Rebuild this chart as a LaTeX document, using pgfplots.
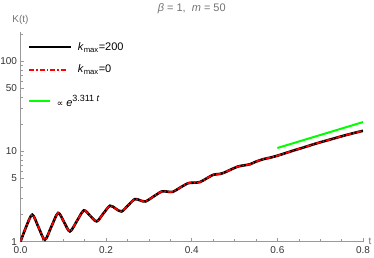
\documentclass[border=0pt]{standalone}
\usepackage{pgfplots}
\pgfplotsset{compat=1.18}
\usepackage{fontspec}
\setmainfont{Liberation Sans}
\newfontfamily\dejavu{DejaVu Sans}
\usetikzlibrary{calc}
\definecolor{lblgray}{gray}{0.45}
\definecolor{tickgray}{gray}{0.2}
\definecolor{axgray}{gray}{0.6}
\definecolor{mgreen}{rgb}{0,1,0}
\definecolor{mred}{rgb}{1,0,0}
\begin{document}
\begin{tikzpicture}
\begin{axis}[
  scale only axis, width=343pt, height=210pt,
  xmin=0, xmax=0.8, ymode=log, ymin=1, ymax=210,
  axis x line*=bottom, axis y line*=left,
  axis line style={-, draw=axgray, line width=0.6pt},
  tick style={draw=axgray, line width=0.5pt},
  tick align=inside,
  major tick length=4pt, minor tick length=2.5pt,
  xtick={0,0.2,0.4,0.6,0.8},
  xticklabels={0.0,0.2,0.4,0.6,0.8},
  minor xtick={0.05,0.1,0.15,0.25,0.3,0.35,0.45,0.5,0.55,0.65,0.7,0.75},
  ytick={1,5,10,50,100},
  yticklabels={1,5,10,50,100},
  minor ytick={2,3,4,6,7,8,9,20,30,40,60,70,80,90,200},
  /pgf/number format/assume math mode=true,
  ticklabel style={font=\fontsize{10}{12}\selectfont, text=tickgray},
  xticklabel style={yshift=-1.5pt},
  xlabel={t},
  every axis x label/.style={at={(axis description cs:1,0)}, anchor=west, xshift=2pt, font=\fontsize{10}{12}\selectfont, text=lblgray},
  after end axis/.code={\node[anchor=center, font=\fontsize{10}{12}\selectfont, text=lblgray] at ($(rel axis cs:0,1)+(0pt,12pt)$) {K(t)};},
  title={\textit{β} = 1,\ \ \textit{m} = 50},
  title style={at={(axis description cs:0.5,1)}, anchor=base, yshift=14pt, font=\fontsize{11}{13}\selectfont, text=lblgray},
  legend style={at={(0.012,0.97)}, anchor=north west, draw=none, fill=none,
    font=\fontsize{11}{13}\selectfont, row sep=9pt, column sep=4pt, cells={anchor=west}},
  legend cell align=left,
]
\addplot[black, line width=2.6pt, smooth, legend image code/.code={\draw[black, line width=2.6pt] (0pt,0pt) -- (41.5pt,0pt);}] coordinates {
(0,1.0) (0.013,1.45) (0.0275,1.99) (0.042,1.45) (0.057,1.05) (0.0725,1.48)
(0.088,2.08) (0.102,1.64) (0.1155,1.30) (0.132,1.70) (0.148,2.22) (0.163,1.93)
(0.178,1.68) (0.1935,2.05) (0.209,2.50) (0.2225,2.32) (0.236,2.16) (0.2515,2.53)
(0.267,2.96) (0.2795,2.87) (0.292,2.79) (0.311,3.17) (0.33,3.6) (0.343,3.58)
(0.356,3.57) (0.374,4.0) (0.392,4.45) (0.405,4.5) (0.419,4.57) (0.434,5.0)
(0.45,5.5) (0.462,5.6) (0.473,5.74) (0.49,6.25) (0.508,6.8) (0.522,7.0)
(0.536,7.2) (0.55,7.7) (0.567,8.2) (0.582,8.5) (0.598,8.9) (0.617,9.5)
(0.637,10.2) (0.66,11.0) (0.68,11.8) (0.70,12.6) (0.725,13.6) (0.75,14.7)
(0.775,15.8) (0.80,16.9)
};
\addlegendentry{\textit{k}\textsubscript{max}=200}
\addplot[mred, line width=1.7pt, smooth, dash pattern=on 5pt off 2pt on 1.5pt off 2pt, legend image code/.code={\draw[draw=mred, line width=1.9pt, dash pattern=on 5pt off 2pt on 1.5pt off 2pt] (0pt,0pt) -- (38pt,0pt);}] coordinates {
(0,1.0) (0.013,1.45) (0.0275,1.99) (0.042,1.45) (0.057,1.05) (0.0725,1.48)
(0.088,2.08) (0.102,1.64) (0.1155,1.30) (0.132,1.70) (0.148,2.22) (0.163,1.93)
(0.178,1.68) (0.1935,2.05) (0.209,2.50) (0.2225,2.32) (0.236,2.16) (0.2515,2.53)
(0.267,2.96) (0.2795,2.87) (0.292,2.79) (0.311,3.17) (0.33,3.6) (0.343,3.58)
(0.356,3.57) (0.374,4.0) (0.392,4.45) (0.405,4.5) (0.419,4.57) (0.434,5.0)
(0.45,5.5) (0.462,5.6) (0.473,5.74) (0.49,6.25) (0.508,6.8) (0.522,7.0)
(0.536,7.2) (0.55,7.7) (0.567,8.2) (0.582,8.5) (0.598,8.9) (0.617,9.5)
(0.637,10.2) (0.66,11.0) (0.68,11.8) (0.70,12.6) (0.725,13.6) (0.75,14.7)
(0.775,15.8) (0.80,16.9)
};
\addlegendentry{\textit{k}\textsubscript{max}=0}
\addplot[mgreen, line width=2pt, legend image code/.code={\draw[draw=mgreen, line width=2pt] (0pt,-3.5pt) -- (21pt,-3.5pt);}] coordinates {
(0.6,10.9) (0.8,21.1)
};
\addlegendentry{\hspace{-21pt}\rule[-8pt]{0pt}{27pt}{\dejavu\fontsize{9}{11}\selectfont ∝} \textit{e}\raisebox{0.45em}{\fontsize{9}{11}\selectfont 3.311\ \textit{t}}}
\end{axis}
\pgfresetboundingbox
\useasboundingbox ($(current axis.south west)+(-20.5pt,-16pt)$) rectangle ($(current axis.north east)+(11pt,32pt)$);
\end{tikzpicture}
\end{document}
